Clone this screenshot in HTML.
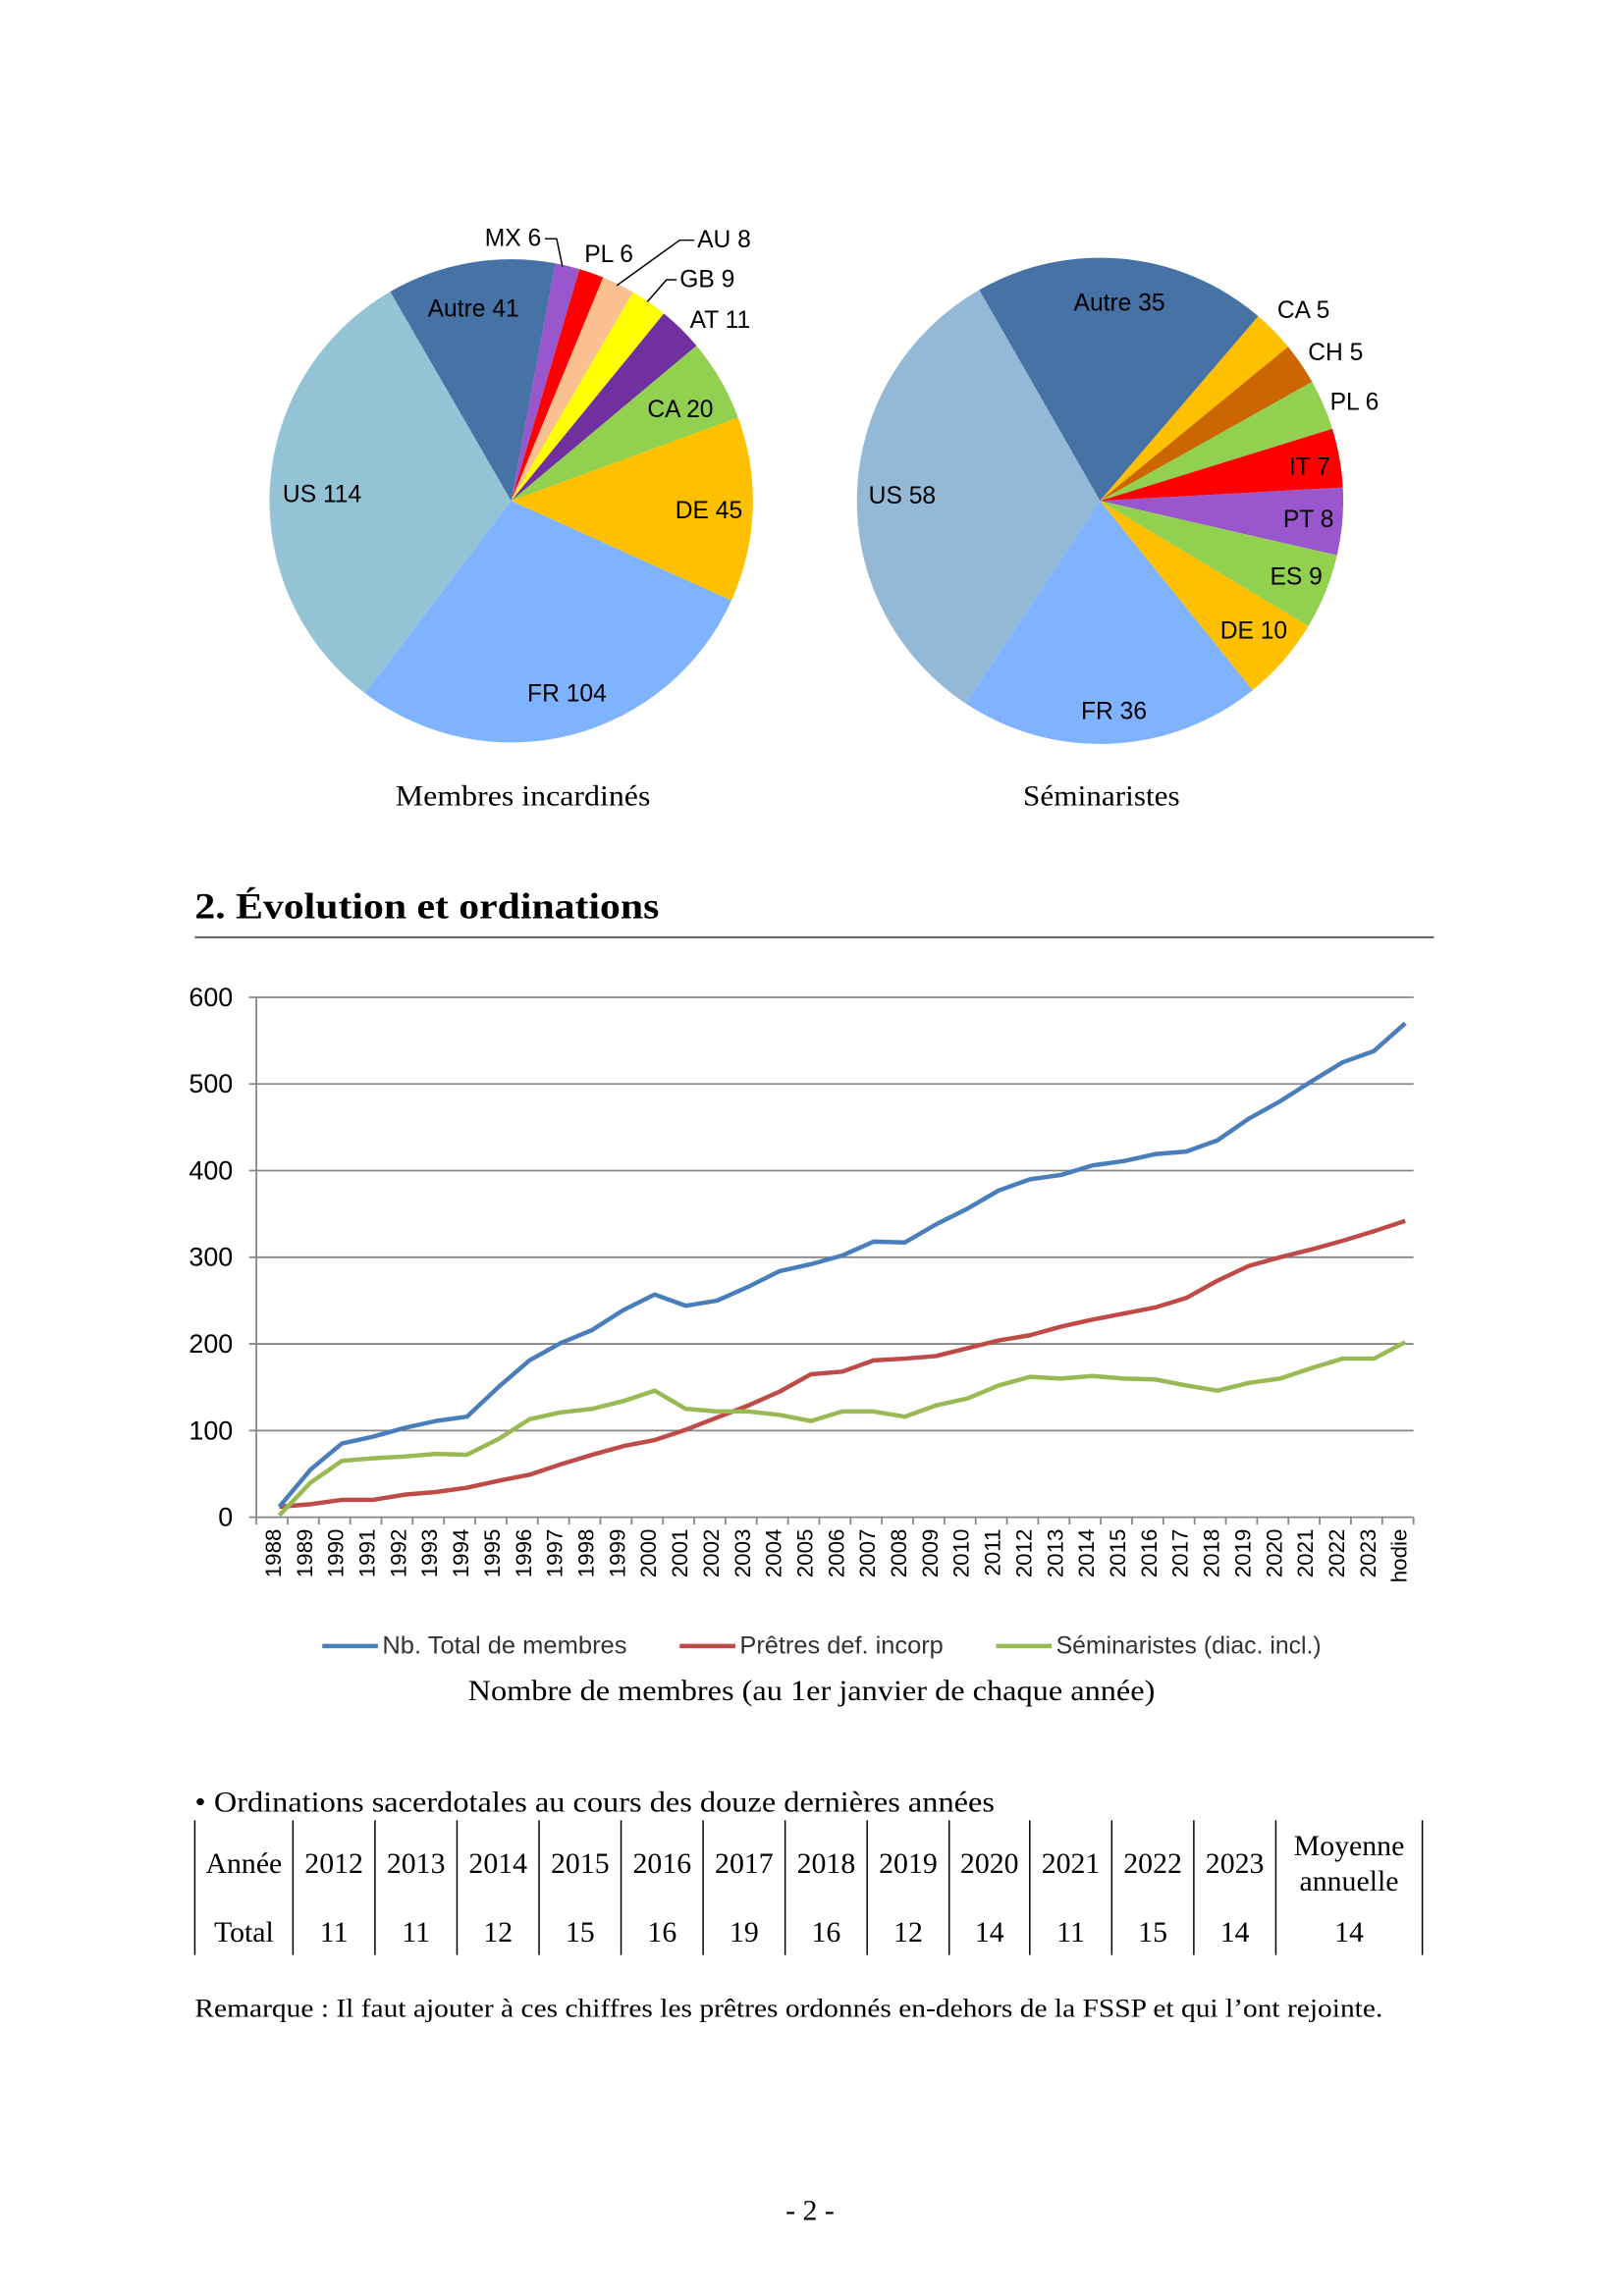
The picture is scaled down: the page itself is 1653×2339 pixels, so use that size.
<!DOCTYPE html>
<html><head><meta charset="utf-8"><style>
html,body{margin:0;padding:0;background:#fff;}
svg{display:block}
.s{font-family:"Liberation Serif",serif;}
.a{font-family:"Liberation Sans",sans-serif;}
</style></head><body>
<svg id="g" width="1653" height="2339" viewBox="0 0 1108 1567.8" xmlns="http://www.w3.org/2000/svg">
<rect width="1108" height="1567.8" fill="#fff"/>
<g id="p1"></g><g id="p2"></g>
<g class="a" font-size="16.5" fill="#000">
<text x="292" y="216">Autre 41</text>
<text x="193" y="343">US 114</text>
<text x="360" y="479">FR 104</text>
<text x="461" y="354">DE 45</text>
<text x="442" y="285">CA 20</text>
<text x="471" y="224">AT 11</text>
<text x="464" y="196">GB 9</text>
<text x="476" y="169">AU 8</text>
<text x="399" y="179">PL 6</text>
<text x="331" y="168">MX 6</text>
<text x="733" y="212">Autre 35</text>
<text x="593" y="344">US 58</text>
<text x="738" y="491">FR 36</text>
<text x="833" y="436">DE 10</text>
<text x="867" y="399">ES 9</text>
<text x="876" y="360">PT 8</text>
<text x="880" y="324">IT 7</text>
<text x="908" y="280">PL 6</text>
<text x="893" y="246">CH 5</text>
<text x="872" y="217">CA 5</text>
</g>
<g fill="none" stroke="#000" stroke-width="1">
<polyline points="372,163 380,163 384,182"/>
<polyline points="474,164 464,164 421,195"/>
<polyline points="462,191 455,191 442,206"/>
</g>
<g class="s" font-size="20" text-anchor="middle">
<text x="357" y="550" textLength="174" lengthAdjust="spacingAndGlyphs">Membres incardinés</text>
<text x="752" y="550" textLength="107" lengthAdjust="spacingAndGlyphs">Séminaristes</text>
</g>
<text class="s" x="133" y="627" font-size="25" font-weight="bold" textLength="317" lengthAdjust="spacingAndGlyphs">2. Évolution et ordinations</text>
<line x1="133" y1="640" x2="979" y2="640" stroke="#555" stroke-width="1.2"/>
<g id="chart"></g>
<g class="a" font-size="17" fill="#333">
<line x1="220" y1="1124" x2="258" y2="1124" stroke="#4a7ebb" stroke-width="3"/><text x="261" y="1129" textLength="167" lengthAdjust="spacingAndGlyphs">Nb. Total de membres</text>
<line x1="464" y1="1124" x2="502" y2="1124" stroke="#be4b48" stroke-width="3"/><text x="505" y="1129" textLength="139" lengthAdjust="spacingAndGlyphs">Prêtres def. incorp</text>
<line x1="680" y1="1124" x2="718" y2="1124" stroke="#98b954" stroke-width="3"/><text x="721" y="1129" textLength="181" lengthAdjust="spacingAndGlyphs">Séminaristes (diac. incl.)</text>
</g>
<text class="s" x="554" y="1161" font-size="20" text-anchor="middle" textLength="469" lengthAdjust="spacingAndGlyphs">Nombre de membres (au 1er janvier de chaque année)</text>
<text class="s" x="133" y="1237" font-size="20" textLength="546" lengthAdjust="spacingAndGlyphs">• Ordinations sacerdotales au cours des douze dernières années</text>
<g id="tbl" class="s" font-size="20" text-anchor="middle"></g>
<text class="s" x="133" y="1377" font-size="18" textLength="811" lengthAdjust="spacingAndGlyphs">Remarque : Il faut ajouter à ces chiffres les prêtres ordonnés en-dehors de la FSSP et qui l’ont rejointe.</text>
<text class="s" x="553" y="1516" font-size="20" text-anchor="middle">- 2 -</text>
</svg>
<script>
var NS="http://www.w3.org/2000/svg";
function el(p,t,a,txt){var e=document.createElementNS(NS,t);for(var k in a)e.setAttribute(k,a[k]);if(txt!==undefined)e.textContent=txt;p.appendChild(e);return e;}
function pie(g,cx,cy,r,start,vals,cols){var tot=vals.reduce(function(a,b){return a+b},0);var a=start;
for(var i=0;i<vals.length;i++){var d=vals[i]/tot*360;var a1=a*Math.PI/180,a2=(a+d)*Math.PI/180;
var x1=cx+r*Math.sin(a1),y1=cy-r*Math.cos(a1),x2=cx+r*Math.sin(a2),y2=cy-r*Math.cos(a2);
el(g,"path",{d:"M"+cx+","+cy+"L"+x1+","+y1+"A"+r+","+r+" 0 "+(d>180?1:0)+" 1 "+x2+","+y2+"Z",fill:cols[i]});a+=d;}}
pie(document.getElementById("p1"),349,342,165,10.5,[6,6,8,9,11,20,45,104,114,41],
["#9a57cd","#ff0000","#fac090","#ffff00","#7030a0","#92d050","#ffc000","#7fb2ff","#93c3d4","#4672a6"]);
pie(document.getElementById("p2"),751,342,166,-29.8,[35,5,5,6,7,8,9,10,36,58],
["#4672a6","#ffc000","#cc6600","#92d050","#ff0000","#9a57cd","#92d050","#ffc000","#7fb2ff","#93b9d6"]);
var c=document.getElementById("chart");
var X0=175,X1=965,Y0=1036,k=(1036-681)/600;
for(var v=0;v<=600;v+=100){var y=Y0-v*k;el(c,"line",{x1:X0-5,y1:y,x2:X1,y2:y,stroke:"#868686","stroke-width":1.2});
el(c,"text",{x:159,y:y+6,"font-size":18,"text-anchor":"end","font-family":"Liberation Sans,sans-serif",fill:"#000"},String(v));}
el(c,"line",{x1:X0,y1:681,x2:X0,y2:Y0,stroke:"#868686","stroke-width":1.2});
var n=37,w=(X1-X0)/n;
for(var i=0;i<=n;i++){el(c,"line",{x1:X0+i*w,y1:Y0,x2:X0+i*w,y2:Y0+5,stroke:"#868686","stroke-width":1.2});}
for(var i=0;i<n;i++){var lab=i<36?String(1988+i):"hodie";var x=X0+(i+0.5)*w+6;
el(c,"text",{x:0,y:0,transform:"translate("+x+","+(Y0+8)+") rotate(-90)","text-anchor":"end","font-size":15,"font-family":"Liberation Sans,sans-serif",fill:"#000"},lab);}
var B=[12,55,85,93,103,111,116,150,181,201,216,239,257,244,250,266,284,292,302,318,317,338,356,377,390,395,406,411,419,422,435,460,480,503,525,538,570];
var R=[12,15,20,20,26,29,34,42,49,61,72,82,89,101,115,129,145,165,168,181,183,186,195,204,210,220,228,235,242,253,273,290,300,309,319,330,342];
var G=[2,40,65,68,70,73,72,90,113,121,125,134,146,125,122,122,118,111,122,122,116,129,137,152,162,160,163,160,159,152,146,155,160,172,183,183,202];
function line(d,col){var p=d.map(function(v,i){return (X0+(i+0.5)*w+5)+","+(Y0-v*k)}).join(" ");
el(c,"polyline",{points:p,fill:"none",stroke:col,"stroke-width":3,"stroke-linejoin":"round"});}
line(R,"#be4b48");line(G,"#98b954");line(B,"#4a7ebb");
var t=document.getElementById("tbl");
var xs=[133,200,256,312,368,424,480,536,592,648,703,759,815,871,971];
xs.forEach(function(x){el(t,"line",{x1:x,y1:1243,x2:x,y2:1335,stroke:"#000","stroke-width":1});});
var yrs=["Année","2012","2013","2014","2015","2016","2017","2018","2019","2020","2021","2022","2023"];
var tot=["Total","11","11","12","15","16","19","16","12","14","11","15","14"];
for(var i=0;i<13;i++){var cx=(xs[i]+xs[i+1])/2;el(t,"text",{x:cx,y:1279},yrs[i]);el(t,"text",{x:cx,y:1326},tot[i]);}
el(t,"text",{x:921,y:1267},"Moyenne");el(t,"text",{x:921,y:1291},"annuelle");el(t,"text",{x:921,y:1326},"14");
</script>
</body></html>
